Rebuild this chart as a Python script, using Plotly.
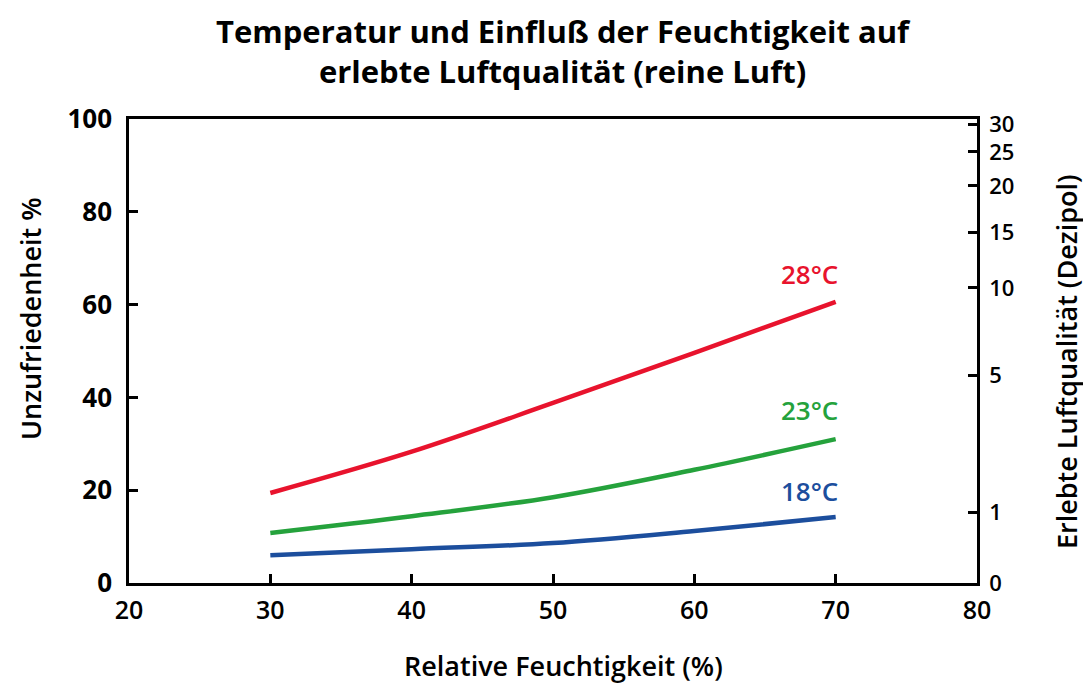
import plotly.graph_objects as go

# Data
humidity = [30, 40, 50, 60, 70]
pd_28 = [19.4, 28.3, 38.8, 49.6, 60.6]
pd_23 = [10.8, 14.4, 18.5, 24.4, 31.0]
pd_18 = [6.0, 7.3, 8.6, 11.2, 14.2]
series_labels = ["28°C", "23°C", "18°C"]
label_y = [66.5, 37.3, 19.9]

x_ticks = [20, 30, 40, 50, 60, 70, 80]
y_ticks = [0, 20, 40, 60, 80, 100]
# right axis (Dezipol) labels and their equivalent dissatisfied-% positions
dezipol_labels = ["0", "1", "5", "10", "15", "20", "25", "30"]
dezipol_pos = [0, 15.3, 44.8, 63.6, 75.6, 85.6, 92.9, 98.9]

colors = ["#e8132d", "#25a23c", "#1c4e9d"]
FONT = "Open Sans"

fig = go.Figure()
for ys, c in zip([pd_28, pd_23, pd_18], colors):
    fig.add_trace(go.Scatter(x=humidity, y=ys, mode="lines",
                             line=dict(color=c, width=4.5, shape="spline"),
                             showlegend=False, hoverinfo="skip"))
# invisible trace to activate right axis
fig.add_trace(go.Scatter(x=[humidity[0]], y=[0], yaxis="y2", mode="markers",
                         marker=dict(opacity=0), showlegend=False, hoverinfo="skip"))

for lab, ly, c in zip(series_labels, label_y, colors):
    fig.add_annotation(x=humidity[-1], y=ly, text=lab, showarrow=False,
                       xanchor="right", yanchor="middle", xshift=4,
                       font=dict(family=FONT, size=26, color=c, weight=600))

axis_common = dict(showgrid=False, zeroline=False, showline=True,
                   linecolor="black", linewidth=2.5, ticks="inside",
                   ticklen=9, tickwidth=2.5, tickcolor="black")

fig.update_layout(
    width=1091, height=683,
    margin=dict(l=121, r=122, t=111, b=108),
    paper_bgcolor="white", plot_bgcolor="white",
    xaxis=dict(range=[20, 80], tickvals=x_ticks, mirror=True, ticklabelstandoff=3,
               tickfont=dict(family=FONT, size=25, color="black", weight=600),
               **axis_common),
    yaxis=dict(range=[0, 100], tickvals=y_ticks, ticklabelstandoff=9,
               tickfont=dict(family=FONT, size=26, color="black", weight="bold"),
               **axis_common),
    yaxis2=dict(range=[0, 100], overlaying="y", side="right",
                tickvals=dezipol_pos, ticktext=dezipol_labels, ticklabelstandoff=5,
                tickfont=dict(family=FONT, size=22, color="black", weight=600),
                **axis_common),
)

# Title and axis titles (positions relative to the plot area)
PW, PH = 848, 464
fig.add_annotation(xref="paper", yref="paper", x=(563 - 129) / PW, y=1 + (119 - 51) / PH,
                   text="<b>Temperatur und Einfluß der Feuchtigkeit auf<br>erlebte Luftqualität (reine Luft)</b>",
                   showarrow=False, xanchor="center", yanchor="middle",
                   font=dict(family=FONT, size=31, color="black"))
fig.add_annotation(xref="paper", yref="paper", x=(563 - 129) / PW, y=-(665 - 583) / PH,
                   text="Relative Feuchtigkeit (%)", showarrow=False,
                   xanchor="center", yanchor="middle",
                   font=dict(family=FONT, size=27, color="black", weight=600))
fig.add_annotation(xref="paper", yref="paper", x=-(129 - 30) / PW, y=(583 - 319) / PH,
                   text="Unzufriedenheit %", showarrow=False, textangle=-90,
                   xanchor="center", yanchor="middle",
                   font=dict(family=FONT, size=27, color="black", weight=600))
fig.add_annotation(xref="paper", yref="paper", x=1 + (1066 - 977) / PW, y=(583 - 362) / PH,
                   text="Erlebte Luftqualität (Dezipol)", showarrow=False, textangle=-90,
                   xanchor="center", yanchor="middle",
                   font=dict(family=FONT, size=27, color="black", weight=600))

fig.write_html("out.html")
